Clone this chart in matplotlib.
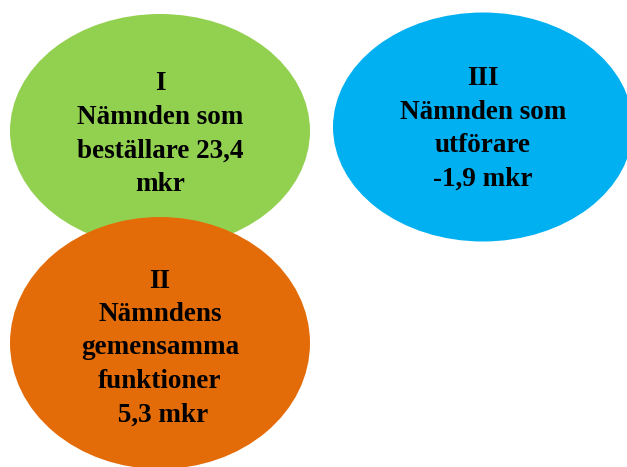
import matplotlib.pyplot as plt
from matplotlib.patches import Ellipse

# three bubbles: label, colour
labels = [
    "I\nNämnden som\nbeställare 23,4\nmkr",
    "II\nNämndens\ngemensamma\nfunktioner\n 5,3 mkr",
    "III\nNämnden som\nutförare\n-1,9 mkr",
]
colors = ["#92D050", "#E36C09", "#00B0F0"]

# layout in pixel coords (x, y from top), width, height
centers = [(160, 131), (160, 343), (483, 127)]
sizes = [(300, 234), (300, 252), (300, 229)]
text_pos = [(160, 134), (160, 348), (483, 129)]

fig = plt.figure(figsize=(6.27, 4.67), dpi=100)
ax = fig.add_axes([0, 0, 1, 1])
ax.set_xlim(0, 627)
ax.set_ylim(467, 0)
ax.axis('off')

for i in range(len(labels)):
    e = Ellipse(centers[i], sizes[i][0], sizes[i][1], facecolor=colors[i],
                edgecolor='none', zorder=i + 1)
    ax.add_patch(e)
    ax.text(text_pos[i][0], text_pos[i][1], labels[i], ha='center', va='center',
            fontsize=19.5, fontweight='bold', family='Liberation Serif',
            linespacing=1.44, zorder=10)

fig.savefig('out.png', dpi=100)
